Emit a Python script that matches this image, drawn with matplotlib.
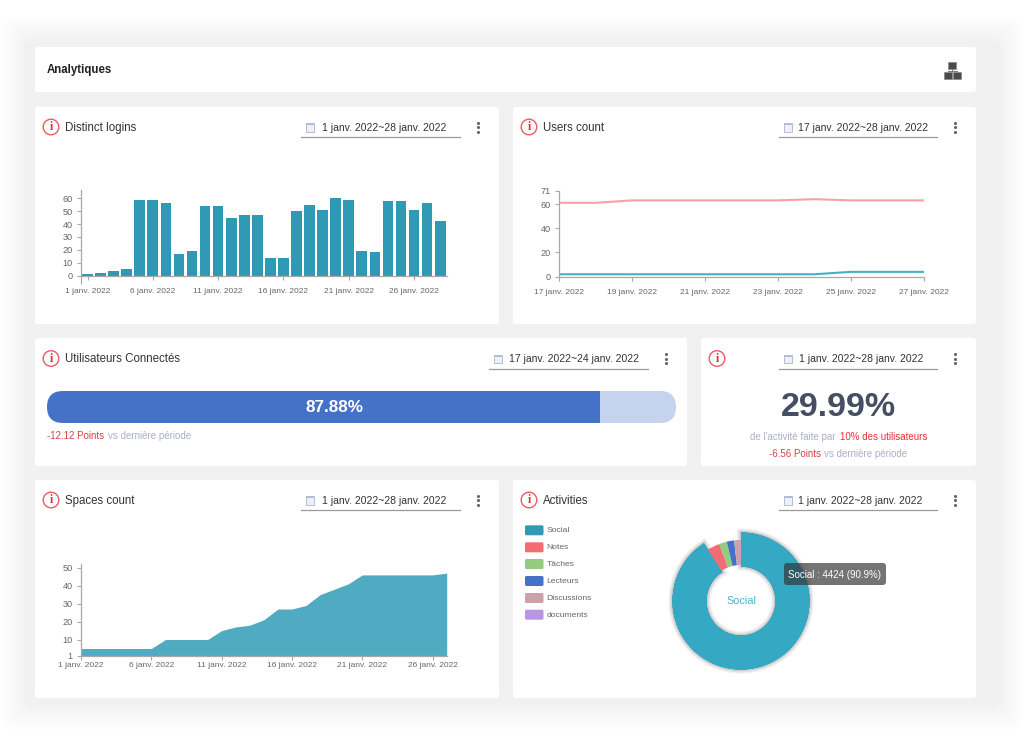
#!/usr/bin/env python3

# Analytics dashboard: cards are laid out in pixels, charts sit in their own axes

import matplotlib
matplotlib.use("Agg")
import matplotlib.pyplot as plt
import matplotlib.patheffects as pe
from matplotlib.patches import FancyBboxPatch, Rectangle, Circle

plt.rcParams['font.family'] = ['Liberation Sans', 'DejaVu Sans']

W, H = 1024, 745

# Data
login_days = list(range(1, 29))
login_counts = [1, 2, 4, 5, 59, 59, 56, 17, 19, 54, 54, 45, 47, 47,
                14, 14, 50, 55, 51, 60, 59, 19, 18, 58, 58, 51, 56, 42]
login_ticks = [1, 6, 11, 16, 21, 26]
login_yticks = [0, 10, 20, 30, 40, 50, 60]

user_days = list(range(17, 28))
users_total = [61, 61, 63, 63, 63, 63, 63, 64, 63, 63, 63]
users_active = [2, 2, 2, 2, 2, 2, 2, 2, 4, 4, 4]
user_ticks = [17, 19, 21, 23, 25, 27]
user_yticks = [0, 20, 40, 60, 71]

space_days = list(range(1, 28))
space_counts = [5, 5, 5, 5, 5, 5, 10, 10, 10, 10, 15, 17, 18, 21,
                27, 27, 29, 35, 38, 41, 46, 46, 46, 46, 46, 46, 47]
space_ticks = [1, 6, 11, 16, 21, 26]
space_yticks = [1, 10, 20, 30, 40, 50]

activity_names = ['Social', 'Notes', 'Tâches', 'Lecteurs', 'Discussions', 'documents']
activity_values = [4424, 160, 100, 95, 85, 3]
activity_colors = ['#35a8c4', '#f26c72', '#93cb7f', '#4472c8', '#cca1aa', '#b996e2']
legend_colors = ['#3099b5', '#f26c72', '#93cb7f', '#4472c8', '#cca1aa', '#b996e2']

connected_pct = 87.88
top_share = '29.99%'

TICK = '#666666'
AXIS = '#a8a8a8'
DARK = '#333333'
RED = '#d8404a'
GREY_TXT = '#a9b1c6'


def add_ax(x0, y0, x1, y1):
    ax = fig.add_axes([x0 / W, 1 - y1 / H, (x1 - x0) / W, (y1 - y0) / H])
    ax.patch.set_alpha(0)
    for s in ['top', 'right']:
        ax.spines[s].set_visible(False)
    for s in ['left', 'bottom']:
        ax.spines[s].set_color(AXIS)
        ax.spines[s].set_linewidth(0.9)
    ax.tick_params(labelsize=6.0, colors=AXIS, labelcolor=TICK, length=3, width=0.8, pad=3)
    ax.tick_params(axis='y', labelsize=6.6)
    return ax


def card(x0, y0, x1, y1):
    bg.add_patch(FancyBboxPatch((x0 + 3, y0 + 3), x1 - x0 - 6, y1 - y0 - 6,
                                boxstyle='round,pad=3,rounding_size=3',
                                fc='white', ec='none', zorder=2))


def card_header(title, title_x, icon_x, y, date, date_x, line_x0, line_x1, dots_x):
    # info icon
    bg.add_patch(Circle((icon_x, y), 7.8, fc='white', ec='#ee5a62', lw=1.0, zorder=3))
    bg.text(icon_x, y + 0.3, 'i', color='#d8303a', fontsize=8.5, fontweight='bold',
            family='Liberation Serif', ha='center', va='center', zorder=4)
    if title:
        bg.text(title_x, y + 0.7, title, color=DARK, fontsize=8.3, va='center', zorder=4)
    # date picker
    cal_x = line_x0 + 8.5
    bg.add_patch(Rectangle((cal_x - 4, y - 4), 8, 8.5, fc='#eef0f8', ec='#b4bdd6', lw=0.7, zorder=3))
    bg.add_patch(Rectangle((cal_x - 4, y - 4), 8, 2, fc='#b4bdd6', ec='none', zorder=4))
    bg.text(date_x, y + 0.8, date, color=DARK, fontsize=7.5, va='center', zorder=4)
    bg.plot([line_x0, line_x1], [y + 10.4, y + 10.4], color='#9a9a9a', lw=0.9, zorder=3)
    bg.scatter([dots_x] * 3, [y - 4.5, y, y + 4.5], s=5, color='#666666', lw=0, zorder=4)


fig = plt.figure(figsize=(W / 100, H / 100), dpi=100, facecolor='white')

# Background layer in pixel coordinates
bg = fig.add_axes([0, 0, 1, 1])
bg.set_xlim(0, W)
bg.set_ylim(H, 0)
bg.axis('off')

# soft edge of the grey panel, built up from faint layers
for grow in range(22, 0, -2):
    bg.add_patch(FancyBboxPatch((33 - grow, 48 - grow), 959 + 2 * grow, 650 + 2 * grow,
                                boxstyle='round,pad=10,rounding_size=14',
                                fc='#f1f1f1', ec='none', alpha=0.07, zorder=1))
bg.add_patch(FancyBboxPatch((33, 48), 959, 650, boxstyle='round,pad=10,rounding_size=14',
                            fc='#f1f1f1', ec='none', zorder=1))

card(35, 47, 976, 92)
card(35, 107, 499, 324)
card(513, 107, 976, 324)
card(35, 338, 687, 466)
card(701, 338, 976, 466)
card(35, 480, 499, 698)
card(513, 480, 976, 698)

bg.text(46.5, 70, 'Analytiques', color='#222222', fontsize=8.3, fontweight='bold', va='center', zorder=4)

# network icon
for bx, by in [(947.5, 75.5), (957, 75.5), (952.2, 65.5)]:
    bg.add_patch(Rectangle((bx - 4, by - 3.5), 8, 7, fc='#4a4a4a', ec='#888888', lw=0.5, zorder=4))
bg.plot([952.2, 952.2], [69, 71], color='#777777', lw=0.7, zorder=3)
bg.plot([947.5, 957], [71, 71], color='#777777', lw=0.7, zorder=3)

card_header('Distinct logins', 65, 51, 127, '1 janv. 2022~28 janv. 2022', 321.5, 301, 460, 477.7)
card_header('Users count', 542.7, 529, 127, '17 janv. 2022~28 janv. 2022', 798.5, 779, 937, 955)
card_header('Utilisateurs Connectés', 65, 51, 358.5, '17 janv. 2022~24 janv. 2022', 509, 489, 648, 666)
card_header('', 0, 717, 358.5, '1 janv. 2022~28 janv. 2022', 799, 779, 937, 955)
card_header('Spaces count', 65, 51, 500, '1 janv. 2022~28 janv. 2022', 321.5, 301, 460, 477.7)
card_header('Activities', 542.7, 529, 500, '1 janv. 2022~28 janv. 2022', 798.5, 779, 937, 955)

# Distinct logins
ax = add_ax(81, 190, 446.7, 275.7)
ax.bar(login_days, login_counts, width=0.82, color='#3099b5')
ax.set_xlim(0.5, 28.5)
ax.set_ylim(0, 66.4)
ax.set_xticks(login_ticks)
ax.set_xticklabels(['%d janv. 2022' % d for d in login_ticks])
ax.set_xticks([0.5], minor=True)
ax.tick_params(axis='x', which='minor', length=6, color=AXIS, width=0.8)
ax.set_yticks(login_yticks)
ax.tick_params(axis='x', pad=5.5)

# Users count
ax = add_ax(559, 190.7, 923.7, 276.7)
ax.plot(user_days, users_total, color='#f9a1a4', lw=1.5)
ax.plot(user_days, users_active, color='#46aec8', lw=1.5)
ax.set_xlim(17, 27)
ax.set_ylim(0, 71)
ax.set_xticks(user_ticks)
ax.set_xticklabels(['%d janv. 2022' % d for d in user_ticks])
ax.set_yticks(user_yticks)
ax.tick_params(axis='x', pad=5.5)

# Spaces count
ax = add_ax(81, 564.3, 446.7, 655.7)
ax.fill_between(space_days, space_counts, 1, color='#50abc2', lw=0)
ax.set_xlim(1, 27)
ax.set_ylim(1, 51.9)
ax.set_xticks(space_ticks)
ax.set_xticklabels(['%d janv. 2022' % d for d in space_ticks])
ax.set_yticks(space_yticks)
ax.tick_params(axis='x', pad=1.5)

# Utilisateurs connectes: progress bar clipped to a rounded outline
clip = FancyBboxPatch((47 + 16, 391 + 16), 629 - 32, 0, boxstyle='round,pad=16,rounding_size=16',
                      fc='none', ec='none', zorder=3)
bg.add_patch(clip)
ax = fig.add_axes([47 / W, 1 - 423 / H, 629 / W, 32 / H])
ax.axis('off')
ax.set_xlim(0, 100)
ax.set_ylim(-0.5, 0.5)
for b in ax.barh([0], [connected_pct], height=1, color='#4472c8'):
    b.set_clip_path(clip)
for b in ax.barh([0], [100 - connected_pct], left=[connected_pct], height=1, color='#c5d3ee'):
    b.set_clip_path(clip)
ax.text(45.7, 0, '%.2f%%' % connected_pct, color='white', fontsize=12.3,
        fontweight='bold', ha='center', va='center')

bg.text(46.7, 436.3, '-12.12 Points', color=RED, fontsize=7.0, va='center', zorder=4)
bg.text(107.5, 436.3, 'vs dernière période', color=GREY_TXT, fontsize=7.0, va='center', zorder=4)

# Top share card
bg.text(838, 407, top_share, color='#454f63', fontsize=24.5, fontweight='bold', ha='center', va='center', zorder=4)
bg.text(750, 437, "de l'activité faite par", color=GREY_TXT, fontsize=7.0, va='center', zorder=4)
bg.text(840, 437, '10% des utilisateurs', color='#e8303a', fontsize=7.0, va='center', zorder=4)
bg.text(769, 454, '-6.56 Points', color=RED, fontsize=7.0, va='center', zorder=4)
bg.text(824, 454, 'vs dernière période', color=GREY_TXT, fontsize=7.0, va='center', zorder=4)

# Activities legend
legend_y = [530.3, 547.3, 564, 581, 598, 614.7]
for name, col, ly in zip(activity_names, legend_colors, legend_y):
    bg.add_patch(FancyBboxPatch((526, ly - 4), 16.5, 8, boxstyle='round,pad=1,rounding_size=1.5',
                                fc=col, ec='none', zorder=4))
    bg.text(546.7, ly + 0.6, name, color='#666666', fontsize=6.1, va='center', zorder=4)

# Activities donut, the selected slice is drawn larger
R_OUT = 68.5
ax = fig.add_axes([(741 - 80) / W, 1 - (601 + 80) / H, 160 / W, 160 / H])
ax.patch.set_alpha(0)
ax.axis('off')
wedges, _ = ax.pie(activity_values, colors=activity_colors, startangle=90, counterclock=False,
                   radius=61, frame=False, wedgeprops=dict(width=25, lw=0))
ax.set_xlim(-80, 80)
ax.set_ylim(-80, 80)
wedges[0].set_radius(R_OUT)
wedges[0].set_width(R_OUT - 34.5)
wedges[0].set_path_effects([pe.withStroke(linewidth=6, foreground='#000000', alpha=0.05),
                            pe.withStroke(linewidth=4, foreground='#000000', alpha=0.07),
                            pe.withStroke(linewidth=2, foreground='#000000', alpha=0.09),
                            pe.Normal()])
ax.text(0, 0, 'Social', color='#4fb0ca', fontsize=7.8, ha='center', va='center')

# Tooltip on top of everything
top = fig.add_axes([0, 0, 1, 1])
top.patch.set_alpha(0)
top.set_xlim(0, W)
top.set_ylim(H, 0)
top.axis('off')
top.add_patch(FancyBboxPatch((786, 565), 98, 18, boxstyle='round,pad=2,rounding_size=3',
                             fc='#323232', ec='none', alpha=0.68))
top.text(835, 574.5, 'Social : %d (90.9%%)' % activity_values[0], color='white', fontsize=7.0,
         ha='center', va='center')

fig.savefig('out.png', dpi=100, facecolor='white')
